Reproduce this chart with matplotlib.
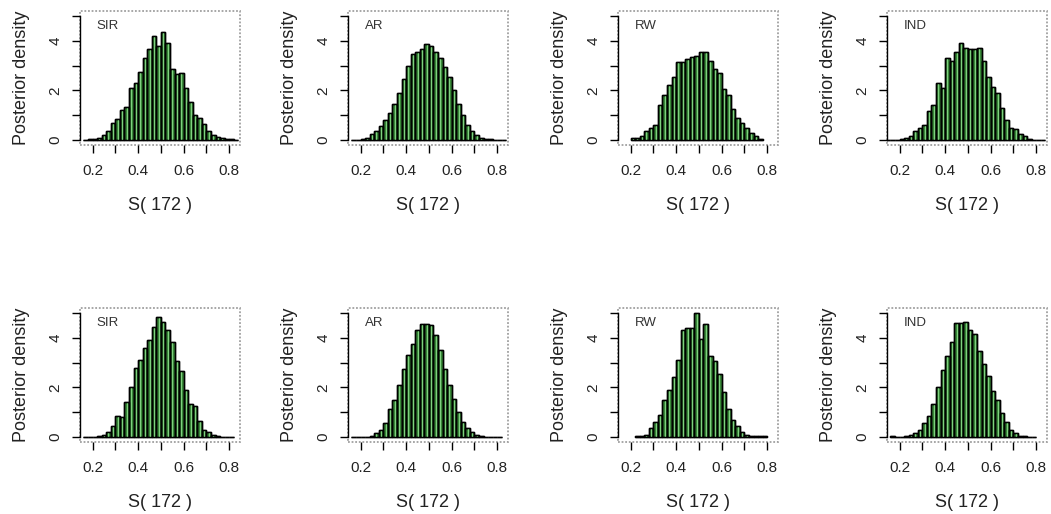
import numpy as np
import matplotlib
matplotlib.use("Agg")
import matplotlib.pyplot as plt
from matplotlib.patches import Rectangle

plt.rcParams['font.family'] = ['Liberation Sans', 'DejaVu Sans']

# bin width of every histogram
BW = 0.02

models = ["SIR", "AR", "RW", "IND", "SIR", "AR", "RW", "IND"]

# first bin edge of each panel
starts = [0.16, 0.16, 0.20, 0.14, 0.16, 0.16, 0.22, 0.16]

# posterior densities per bin
sir_top = [0.02, 0.04, 0.05, 0.1, 0.2, 0.37, 0.67, 0.85, 1.2, 1.35, 2.1, 2.3, 2.75,
           3.3, 3.65, 4.2, 3.8, 4.35, 3.9, 2.85, 2.65, 2.7, 2.1, 1.55, 1.0, 0.87,
           0.65, 0.35, 0.2, 0.13, 0.08, 0.05, 0.03, 0.02]
ar_top = [0.01, 0.02, 0.03, 0.08, 0.25, 0.35, 0.55, 0.8, 1.1, 1.45, 1.9, 2.45, 3.0,
          3.45, 3.55, 3.65, 3.85, 3.8, 3.55, 3.3, 2.95, 2.55, 2.0, 1.45, 1.0, 0.6,
          0.35, 0.2, 0.1, 0.06, 0.03, 0.02, 0.01, 0.01]
rw_top = [0.07, 0.08, 0.15, 0.35, 0.5, 0.6, 1.4, 1.8, 2.2, 2.55, 3.15, 3.15, 3.25,
          3.35, 3.4, 3.55, 3.55, 3.2, 2.85, 2.7, 2.05, 1.8, 1.25, 0.9, 0.7, 0.5,
          0.3, 0.15, 0.04]
ind_top = [0.01, 0.01, 0.02, 0.03, 0.08, 0.15, 0.35, 0.5, 0.6, 1.15, 1.4, 2.3, 2.1,
           3.3, 3.2, 3.55, 3.9, 3.7, 3.65, 3.65, 3.7, 3.2, 2.55, 2.15, 1.9, 1.3,
           0.8, 0.5, 0.45, 0.25, 0.15, 0.05, 0.02, 0.01, 0.01]
sir_bot = [0.01, 0.01, 0.01, 0.03, 0.1, 0.2, 0.45, 0.85, 0.8, 1.4, 2.0, 2.8, 3.1,
           3.6, 3.9, 4.45, 4.85, 4.65, 4.3, 3.85, 3.05, 2.65, 1.9, 1.35, 1.25, 0.65,
           0.3, 0.2, 0.1, 0.05, 0.02, 0.01, 0.01]
ar_bot = [0.01, 0.01, 0.01, 0.02, 0.05, 0.15, 0.3, 0.55, 1.15, 1.5, 2.1, 2.75, 3.3,
          3.75, 4.3, 4.55, 4.55, 4.5, 4.1, 3.5, 2.75, 2.1, 1.55, 1.0, 0.6, 0.35,
          0.2, 0.1, 0.05, 0.02, 0.01, 0.01, 0.01]
rw_bot = [0.03, 0.04, 0.07, 0.35, 0.6, 0.9, 1.5, 1.9, 2.4, 3.1, 4.3, 4.4, 4.4, 5.0,
          3.95, 4.55, 3.25, 3.05, 2.53, 1.8, 1.15, 0.7, 0.45, 0.22, 0.1, 0.04,
          0.03, 0.03, 0.03]
ind_bot = [0.03, 0.01, 0.02, 0.05, 0.07, 0.15, 0.3, 0.55, 0.85, 1.35, 2.0, 2.7, 3.25,
           3.85, 4.6, 4.6, 4.65, 4.3, 4.15, 3.45, 2.95, 2.45, 1.85, 1.5, 0.95, 0.6,
           0.3, 0.15, 0.05, 0.03, 0.02, 0.01]

densities = [sir_top, ar_top, rw_top, ind_top, sir_bot, ar_bot, rw_bot, ind_bot]

xticks = [0.2, 0.3, 0.4, 0.5, 0.6, 0.7, 0.8]
xticklabels = ["0.2", "", "0.4", "", "0.6", "", "0.8"]
yticks = [0, 1, 2, 3, 4, 5]
yticklabels = ["0", "", "2", "", "4", ""]

W, H = 1051, 514
fig = plt.figure(figsize=(W / 100, H / 100), dpi=100)

lefts = [80, 348, 618, 887]
tops = [11, 308]
box_w, box_h = 160, 134

for i, (name, x0, dens) in enumerate(zip(models, starts, densities)):
    row, col = divmod(i, 4)
    ax = fig.add_axes([lefts[col] / W, 1 - (tops[row] + box_h) / H, box_w / W, box_h / H])
    dens = np.array(dens)
    edges = x0 + BW * np.arange(len(dens))

    # bars: dark green with a light highlight stripe
    ax.bar(edges, dens, width=BW, align='edge', color='#3a8a3a',
           edgecolor='black', linewidth=1.0, zorder=2)
    ax.bar(edges + BW * 0.5, dens, width=BW * 0.22, align='edge',
           color='#7fd07f', linewidth=0, zorder=3)
    ax.bar(edges, dens, width=BW, align='edge', fill=False,
           edgecolor='black', linewidth=1.0, zorder=4)

    ax.set_xlim(0.145, 0.847)
    ax.set_ylim(-0.2, 5.2)

    for s in ax.spines.values():
        s.set_visible(False)
    ax.spines['left'].set_visible(True)
    ax.spines['left'].set_bounds(0, 5)
    ax.spines['left'].set_linewidth(1.0)
    ax.add_patch(Rectangle((0, 0), 1, 1, transform=ax.transAxes, fill=False,
                           ls=(0, (1, 1)), ec='#a0a0a0', lw=1.3, clip_on=False, zorder=1))

    ax.set_xticks(xticks)
    ax.set_xticklabels(xticklabels)
    ax.set_yticks(yticks)
    ax.set_yticklabels(yticklabels, rotation=90, va='center')
    ax.tick_params(axis='both', direction='out', length=5.5, width=1.0,
                   labelsize=11, labelcolor='#222222')
    ax.tick_params(axis='x', pad=8)
    ax.tick_params(axis='y', pad=7)

    ax.set_xlabel("S( 172 )", fontsize=13, color='#222222')
    ax.xaxis.set_label_coords(0.5, -0.39)
    ax.set_ylabel("Posterior density", fontsize=13, color='#222222')
    ax.yaxis.set_label_coords(-0.31, 0.5)

    ax.text(0.105, 0.885, name, transform=ax.transAxes, fontsize=9.5,
            color='#333333', ha='left', va='center')

fig.savefig("out.png", dpi=100)
